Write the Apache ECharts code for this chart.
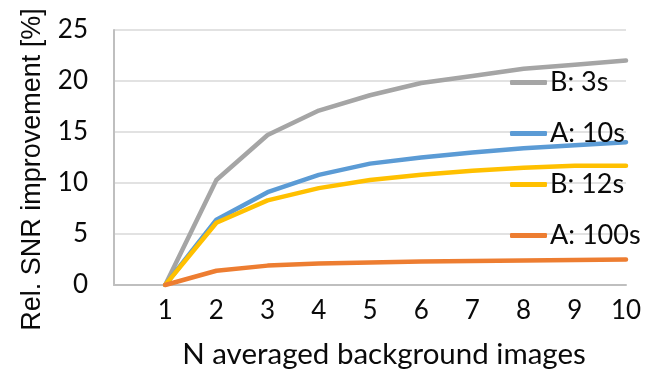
<!DOCTYPE html>
<html><head><meta charset="utf-8">
<script src="https://cdn.jsdelivr.net/npm/echarts@6/dist/echarts.min.js"></script>
<style>html,body{margin:0;padding:0;background:#fff}#c{width:656px;height:374px}</style>
</head><body><div id="c"></div>
<script>
const xValues = [1, 2, 3, 4, 5, 6, 7, 8, 9, 10];
const seriesNames = ['B: 3s', 'A: 10s', 'B: 12s', 'A: 100s'];
const b3s   = [0, 10.3, 14.7, 17.1, 18.6, 19.8, 20.5, 21.2, 21.6, 22.0];
const a10s  = [0, 6.4, 9.1, 10.8, 11.9, 12.5, 13.0, 13.4, 13.7, 14.0];
const b12s  = [0, 6.1, 8.3, 9.5, 10.3, 10.8, 11.2, 11.5, 11.7, 11.7];
const a100s = [0, 1.4, 1.9, 2.1, 2.2, 2.3, 2.35, 2.4, 2.45, 2.5];
const yTicks = [0, 5, 10, 15, 20, 25];
const colors = ['#A5A5A5', '#5B9BD5', '#FFC000', '#ED7D31'];
const allData = [b3s, a10s, b12s, a100s];
const font = 'Lato, "Open Sans", sans-serif';
const txt = '#0a0a0a';

const chart = echarts.init(document.getElementById('c'));
chart.setOption({
  animation: false,
  textStyle: { fontFamily: font },
  grid: { left: 114, right: 30, top: 30, bottom: 89 },
  legend: {
    orient: 'vertical', left: 505, top: 64, itemWidth: 37, itemHeight: 5, itemGap: 24,
    icon: 'roundRect',
    textStyle: { fontSize: 27, color: txt, fontFamily: font, padding: [0, 0, 0, -2], lineHeight: 26 },
    data: seriesNames
  },
  xAxis: {
    type: 'value', min: 0, max: 10, interval: 1,
    name: 'N averaged background images', nameLocation: 'middle', nameGap: 54,
    nameTextStyle: { fontSize: 29.5, color: txt, padding: [0, 0, 0, 28] },
    axisLine: { lineStyle: { color: '#BFBFBF', width: 2 } },
    axisTick: { show: false },
    splitLine: { show: false },
    axisLabel: { fontSize: 26, color: txt, margin: 13,
      formatter: v => (xValues.indexOf(v) >= 0 ? String(v) : '') }
  },
  yAxis: {
    type: 'value', min: yTicks[0], max: yTicks[yTicks.length - 1], interval: 5,
    name: 'Rel. SNR improvement [%]', nameLocation: 'middle', nameGap: 68,
    nameTextStyle: { fontSize: 27, color: txt, fontFamily: '"Liberation Sans", Arial, sans-serif', padding: [0, 24, 0, 0] },
    axisLine: { show: true, lineStyle: { color: '#BFBFBF', width: 2 } },
    axisTick: { show: false },
    splitLine: { lineStyle: { color: '#D9D9D9', width: 1.5 } },
    axisLabel: { fontSize: 26, color: txt, margin: 26 }
  },
  series: seriesNames.map((n, i) => ({
    name: n, type: 'line', symbol: 'none', color: colors[i],
    lineStyle: { width: 4.5, cap: 'round', join: 'round' },
    data: xValues.map((x, j) => [x, allData[i][j]])
  }))
});
</script></body></html>
